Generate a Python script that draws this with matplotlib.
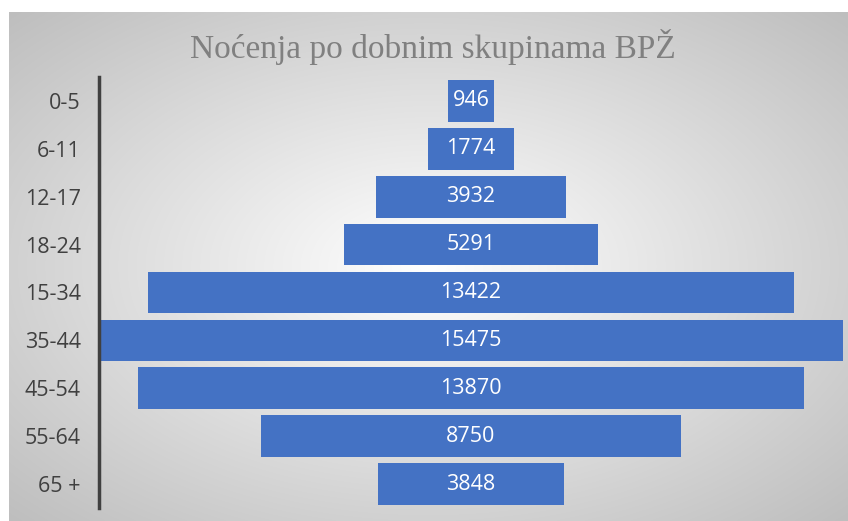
import numpy as np
import matplotlib
matplotlib.use('Agg')
import matplotlib.pyplot as plt

# data
categories = ['0-5', '6-11', '12-17', '18-24', '15-34', '35-44', '45-54', '55-64', '65 +']
values = [946, 1774, 3932, 5291, 13422, 15475, 13870, 8750, 3848]
title = 'Noćenja po dobnim skupinama BPŽ'

W, H = 848, 521
fig = plt.figure(figsize=(W / 100, H / 100), dpi=100)
fig.patch.set_facecolor('white')

# radial gradient panel
bg = fig.add_axes([9 / W, 0, 1 - 9 / W, 1 - 12 / H])
ny, nx = 300, 500
yy, xx = np.mgrid[-1:1:ny * 1j, -1:1:nx * 1j]
r = np.sqrt(xx ** 2 + yy ** 2)
g = 1 - 0.18 * r
bg.imshow(np.dstack([g, g, g]), aspect='auto', extent=(0, 1, 0, 1), interpolation='bilinear')
bg.axis('off')

# main axes
left, right = 99, 843
top, bottom = 77, 508
ax = fig.add_axes([left / W, 1 - bottom / H, (right - left) / W, (bottom - top) / H])
ax.patch.set_alpha(0)

vmax = max(values)
y = np.arange(len(categories))
v = np.array(values)
ax.barh(y, v, left=-v / 2, height=0.87, color='#4472C4')
for yi, vi in zip(y, v):
    ax.text(0, yi, str(vi), ha='center', va='center', color='white',
            fontsize=15.5, family='Open Sans')

ax.set_xlim(-vmax / 2, vmax / 2)
ax.set_ylim(len(categories) - 0.5, -0.5)
ax.set_yticks(y)
ax.set_yticklabels(categories, fontsize=15.5, color='#404040', family='Open Sans')
ax.tick_params(axis='y', length=0, pad=13)
ax.set_xticks([])
for s in ['top', 'right', 'bottom']:
    ax.spines[s].set_visible(False)
ax.spines['left'].set_color('#404040')
ax.spines['left'].set_linewidth(2.5)

fig.text(0.51, 1 - 47 / H, title, ha='center', va='center', fontsize=24,
         color='#808080', family='Liberation Serif')

fig.savefig('out.png', dpi=100)
